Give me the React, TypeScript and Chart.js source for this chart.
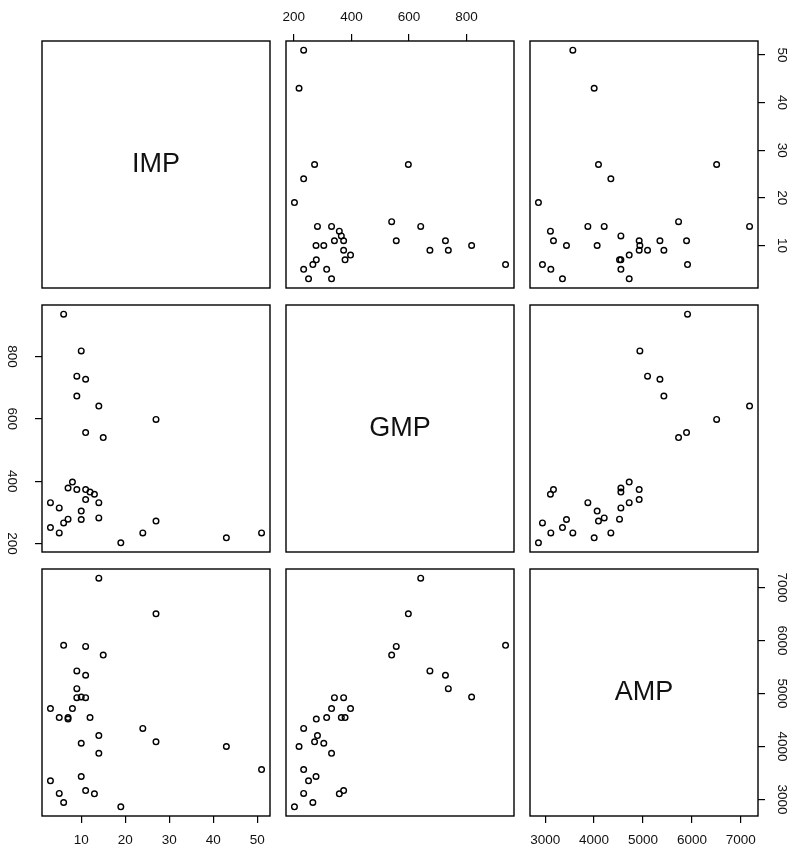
import React, { useEffect, useRef } from "react";
import { Chart, registerables } from "chart.js";

Chart.register(...registerables);

// ---- data ----
const VAR_NAMES = ["IMP", "GMP", "AMP"];
const IMP = [6, 10, 9, 11, 9, 14, 27, 11, 15, 8, 7, 9, 11, 12, 13, 11, 3, 14, 5, 10, 7, 6, 10, 14, 27, 3, 5, 24, 19, 43, 51];
const GMP = [936, 818, 737, 727, 673, 641, 598, 556, 540, 397, 378, 373, 373, 365, 358, 341, 331, 331, 314, 304, 278, 266, 277, 282, 272, 251, 234, 234, 202, 218, 234];
const AMP = [5910, 4936, 5093, 5346, 5427, 7178, 6505, 5890, 5727, 4718, 4548, 4922, 3170, 4548, 3108, 4922, 4718, 3873, 4548, 4063, 4520, 2945, 3436, 4207, 4090, 3354, 3116, 4343, 2863, 4002, 3566];
const IMP_TICKS = [10, 20, 30, 40, 50];
const GMP_TICKS = [200, 400, 600, 800];
const AMP_TICKS = [3000, 4000, 5000, 6000, 7000];

const VARS = [IMP, GMP, AMP];
const TICKS = [IMP_TICKS, GMP_TICKS, AMP_TICKS];

// ---- layout / style ----
const PANEL_LEFT = [42, 286, 530];
const PANEL_TOP = [41, 305, 569];
const PANEL_W = 228;
const PANEL_H = 247;
const M = 45;
const FONT_FAMILY = '"Liberation Sans", Arial, Helvetica, sans-serif';
const TICK_FONT_SIZE = 13.5;
const TICK_LEN = 7;
const INK = "#111";

function paddedRange(arr: number[]): [number, number] {
  const mn = Math.min(...arr);
  const mx = Math.max(...arr);
  const d = (mx - mn) * 0.04;
  return [mn - d, mx + d];
}

function measureWidest(labels: string[]): number {
  const c = document.createElement("canvas").getContext("2d")!;
  c.font = `${TICK_FONT_SIZE}px ${FONT_FAMILY}`;
  return Math.max(...labels.map((l) => c.measureText(l).width));
}

const framePlugin = {
  id: "panelFrame",
  afterDraw(chart: any, _args: any, opts: any) {
    const { ctx, chartArea } = chart;
    ctx.save();
    if (opts && opts.label) {
      ctx.fillStyle = INK;
      ctx.font = `27px ${FONT_FAMILY}`;
      ctx.textAlign = "center";
      ctx.textBaseline = "middle";
      ctx.fillText(
        opts.label,
        (chartArea.left + chartArea.right) / 2,
        (chartArea.top + chartArea.bottom) / 2
      );
    }
    ctx.strokeStyle = "#000";
    ctx.lineWidth = 1.4;
    ctx.strokeRect(chartArea.left, chartArea.top, chartArea.right - chartArea.left, chartArea.bottom - chartArea.top);
    ctx.restore();
  },
};

function Panel({ row, col }: { row: number; col: number }) {
  const ref = useRef<HTMLCanvasElement>(null);
  useEffect(() => {
    const xVals = VARS[col];
    const yVals = VARS[row];
    const [xmin, xmax] = paddedRange(xVals);
    const [ymin, ymax] = paddedRange(yVals);
    const xPos: string | null =
      row === 2 && col % 2 === 0 ? "bottom" : row === 0 && col % 2 === 1 ? "top" : null;
    const yPos: string | null =
      col === 2 && row % 2 === 0 ? "right" : col === 0 && row % 2 === 1 ? "left" : null;
    const diag = row === col;

    const font = { family: FONT_FAMILY, size: TICK_FONT_SIZE };
    const yWidest = measureWidest(TICKS[row].map(String));
    let yPad = 0;
    if (yPos === "left") yPad = 30.6 - TICK_LEN - yWidest / 2;
    if (yPos === "right") yPad = 23.4 - TICK_LEN - yWidest / 2;
    const xPad = xPos === "top" ? 9 : 9.5;

    const grid = {
      display: true,
      drawOnChartArea: false,
      drawTicks: true,
      tickLength: TICK_LEN,
      color: "#000",
      lineWidth: 1.2,
    };

    const chart = new Chart(ref.current!, {
      type: "scatter",
      data: {
        datasets: diag
          ? []
          : [
              {
                data: xVals.map((x, k) => ({ x, y: yVals[k] })),
                pointRadius: 2.8,
                pointHoverRadius: 2.8,
                pointBorderWidth: 1.4,
                borderColor: "#000",
                backgroundColor: "rgba(0,0,0,0)",
                showLine: false,
              },
            ],
      },
      options: {
        animation: false,
        responsive: false,
        devicePixelRatio: 1,
        events: [],
        layout: {
          padding: {
            left: yPos === "left" ? 0 : M,
            right: yPos === "right" ? 0 : M,
            top: xPos === "top" ? 0 : M,
            bottom: xPos === "bottom" ? 0 : M,
          },
        },
        scales: {
          x: {
            type: "linear",
            position: (xPos || "bottom") as any,
            display: !!xPos,
            min: xmin,
            max: xmax,
            afterBuildTicks: (a: any) => {
              a.ticks = TICKS[col].map((v) => ({ value: v }));
            },
            afterFit: (a: any) => {
              a.height = xPos ? M : 0;
            },
            ticks: {
              font,
              color: INK,
              padding: xPad,
              autoSkip: false,
              maxRotation: 0,
              minRotation: 0,
              callback: (v: any) => String(v),
            },
            grid,
            border: { display: false },
          },
          y: {
            type: "linear",
            position: (yPos || "left") as any,
            display: !!yPos,
            min: ymin,
            max: ymax,
            afterBuildTicks: (a: any) => {
              a.ticks = TICKS[row].map((v) => ({ value: v }));
            },
            afterFit: (a: any) => {
              a.width = yPos ? M : 0;
            },
            ticks: {
              font,
              color: INK,
              padding: yPad,
              autoSkip: false,
              minRotation: -90,
              maxRotation: -90,
              crossAlign: "center",
              callback: (v: any) => String(v),
            },
            grid,
            border: { display: false },
          },
        },
        plugins: {
          legend: { display: false },
          tooltip: { enabled: false },
          panelFrame: { label: diag ? VAR_NAMES[row] : "" },
        } as any,
      },
      plugins: [framePlugin],
    } as any);
    return () => chart.destroy();
  }, [row, col]);

  return (
    <canvas
      ref={ref}
      width={PANEL_W + 2 * M}
      height={PANEL_H + 2 * M}
      style={{
        position: "absolute",
        left: PANEL_LEFT[col] - M,
        top: PANEL_TOP[row] - M,
        width: PANEL_W + 2 * M,
        height: PANEL_H + 2 * M,
      }}
    />
  );
}

export default function App() {
  const cells: JSX.Element[] = [];
  for (let r = 0; r < 3; r++) {
    for (let c = 0; c < 3; c++) {
      cells.push(<Panel key={`${r}-${c}`} row={r} col={c} />);
    }
  }
  return (
    <div
      style={{
        position: "absolute",
        left: 0,
        top: 0,
        width: 789,
        height: 850,
        background: "#fff",
        overflow: "hidden",
      }}
    >
      {cells}
    </div>
  );
}
